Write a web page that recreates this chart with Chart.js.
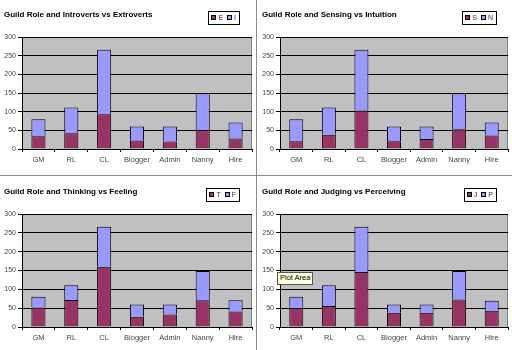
<!DOCTYPE html>
<html>
<head>
<meta charset="utf-8">
<script src="https://cdn.jsdelivr.net/npm/chart.js@4/dist/chart.umd.min.js"></script>
<style>
  html, body { margin: 0; padding: 0; background: #fff; }
  #page { position: relative; width: 512px; height: 350px; overflow: hidden; }
  .box { position: absolute; }
  .vline { position: absolute; left: 256px; top: 0; width: 1px; height: 350px; background: #8c8c8c; }
  .hline { position: absolute; left: 0; top: 175px; width: 512px; height: 1px; background: #8c8c8c; }
  #tip { position: absolute; left: 277px; top: 272px; padding: 0 2px; height: 11px; line-height: 11px;
         background: #ffffe1; border: 1px solid #555; font: 7.5px "Liberation Sans", Arial, sans-serif; color: #000; }
</style>
</head>
<body>
<div id="page">
  <div class="box" style="left:0;top:0;width:256px;height:175px"><canvas id="c1"></canvas></div>
  <div class="box" style="left:257px;top:0;width:255px;height:175px"><canvas id="c2"></canvas></div>
  <div class="box" style="left:0;top:176px;width:256px;height:174px"><canvas id="c3"></canvas></div>
  <div class="box" style="left:257px;top:176px;width:255px;height:174px"><canvas id="c4"></canvas></div>
  <div class="vline"></div>
  <div class="hline"></div>
  <div id="tip">Plot Area</div>
</div>
<script>
var roles = ["GM", "RL", "CL", "Blogger", "Admin", "Nanny", "Hire"];

var extroverts  = [34, 42, 93, 23, 20, 50, 28];
var introverts  = [46, 69, 173, 37, 40, 99, 43];

var sensing     = [21, 38, 103, 21, 27, 53, 36];
var intuition   = [59, 73, 163, 39, 33, 96, 35];

var thinking    = [52, 72, 160, 27, 33, 71, 41];
var feeling     = [28, 39, 106, 33, 27, 78, 30];

var judging     = [51, 56, 146, 38, 38, 73, 43];
var perceiving  = [29, 55, 120, 22, 22, 76, 27];

var yTicks = [0, 50, 100, 150, 200, 250, 300];

var maroon = "#993366";
var lilac = "#9999ff";
var fontName = '"Liberation Sans", Arial, sans-serif';

// grey plot area like excel
var plotBg = {
  id: "plotBg",
  beforeDraw: function(chart) {
    var a = chart.chartArea, ctx = chart.ctx;
    ctx.save();
    ctx.fillStyle = "#c0c0c0";
    ctx.fillRect(a.left, a.top, a.right - a.left, a.bottom - a.top);
    ctx.strokeStyle = "#808080";
    ctx.lineWidth = 1;
    ctx.strokeRect(a.left + 0.5, a.top + 0.5, a.right - a.left - 1, a.bottom - a.top);
    ctx.restore();
  }
};

// small boxed legend next to the title
var boxLegend = {
  id: "boxLegend",
  afterDraw: function(chart, args, opts) {
    var ctx = chart.ctx;
    var sets = chart.data.datasets;
    ctx.save();
    ctx.font = "7px " + fontName;
    var w = 6;
    sets.forEach(function(ds, i) {
      w += 7 + ctx.measureText(ds.label).width + (i < sets.length - 1 ? 4 : 0);
    });
    var x = opts.right - w, y = opts.top, h = 13;
    ctx.strokeStyle = "#000";
    ctx.lineWidth = 1;
    ctx.strokeRect(Math.round(x) + 0.5, y + 0.5, Math.round(w), h);
    var cx = x + 3;
    ctx.textBaseline = "middle";
    sets.forEach(function(ds) {
      ctx.fillStyle = ds.backgroundColor;
      ctx.fillRect(Math.round(cx), y + 4, 5, 5);
      ctx.strokeRect(Math.round(cx) + 0.5, y + 4.5, 4, 4);
      ctx.fillStyle = "#333";
      ctx.fillText(ds.label, cx + 7, y + 7);
      cx += 7 + ctx.measureText(ds.label).width + 4;
    });
    ctx.restore();
  }
};

function makeChart(id, title, names, first, second, lay) {
  var ctx = document.getElementById(id).getContext("2d");
  return new Chart(ctx, {
    type: "bar",
    data: {
      labels: roles,
      datasets: [
        { label: names[0], data: first, backgroundColor: maroon, borderColor: "#000", borderWidth: 1 },
        { label: names[1], data: second, backgroundColor: lilac, borderColor: "#000", borderWidth: 1 }
      ]
    },
    options: {
      responsive: true,
      maintainAspectRatio: false,
      animation: false,
      layout: { padding: { left: lay.left, right: lay.right, top: 0, bottom: 0 } },
      datasets: { bar: { categoryPercentage: 1, barPercentage: 0.43 } },
      plugins: {
        legend: { display: false },
        tooltip: { enabled: false },
        title: {
          display: true,
          text: title,
          align: "start",
          color: "#000",
          font: { family: fontName, size: 8, weight: "bold" },
          padding: { top: lay.titleTop, bottom: lay.titleBottom }
        },
        boxLegend: { right: 239, top: lay.legendTop }
      },
      scales: {
        x: {
          stacked: true,
          grid: { drawOnChartArea: false, color: "#000", tickLength: 3 },
          border: { color: "#000" },
          ticks: { color: "#444", padding: 3, font: { family: fontName, size: 7.5 } },
          afterFit: function(scale) { scale.height = lay.xHeight; }
        },
        y: {
          stacked: true,
          min: 0,
          max: 300,
          afterBuildTicks: function(scale) {
            scale.ticks = yTicks.map(function(v) { return { value: v }; });
          },
          grid: { color: "#000", tickLength: 4 },
          border: { color: "#000" },
          ticks: { color: "#444", padding: 2, font: { family: fontName, size: 7 } },
          afterFit: function(scale) { scale.width = 18; }
        }
      }
    },
    plugins: [plotBg, boxLegend]
  });
}

var topLay = { left: 4, right: 4, titleTop: 10, titleBottom: 17.4, legendTop: 11, xHeight: 26 };
var botLay = { left: 4, right: 4, titleTop: 11, titleBottom: 17.4, legendTop: 12, xHeight: 23 };

makeChart("c1", "Guild Role and Introverts vs Extroverts", ["E", "I"], extroverts, introverts, topLay);
makeChart("c2", "Guild Role and Sensing vs Intuition", ["S", "N"], sensing, intuition,
  { left: 5, right: 4, titleTop: 10, titleBottom: 17.4, legendTop: 11, xHeight: 26 });
makeChart("c3", "Guild Role and Thinking vs Feeling", ["T", "F"], thinking, feeling, botLay);
makeChart("c4", "Guild Role and Judging vs Perceiving", ["J", "P"], judging, perceiving,
  { left: 5, right: 4, titleTop: 11, titleBottom: 17.4, legendTop: 12, xHeight: 23 });
</script>
</body>
</html>
